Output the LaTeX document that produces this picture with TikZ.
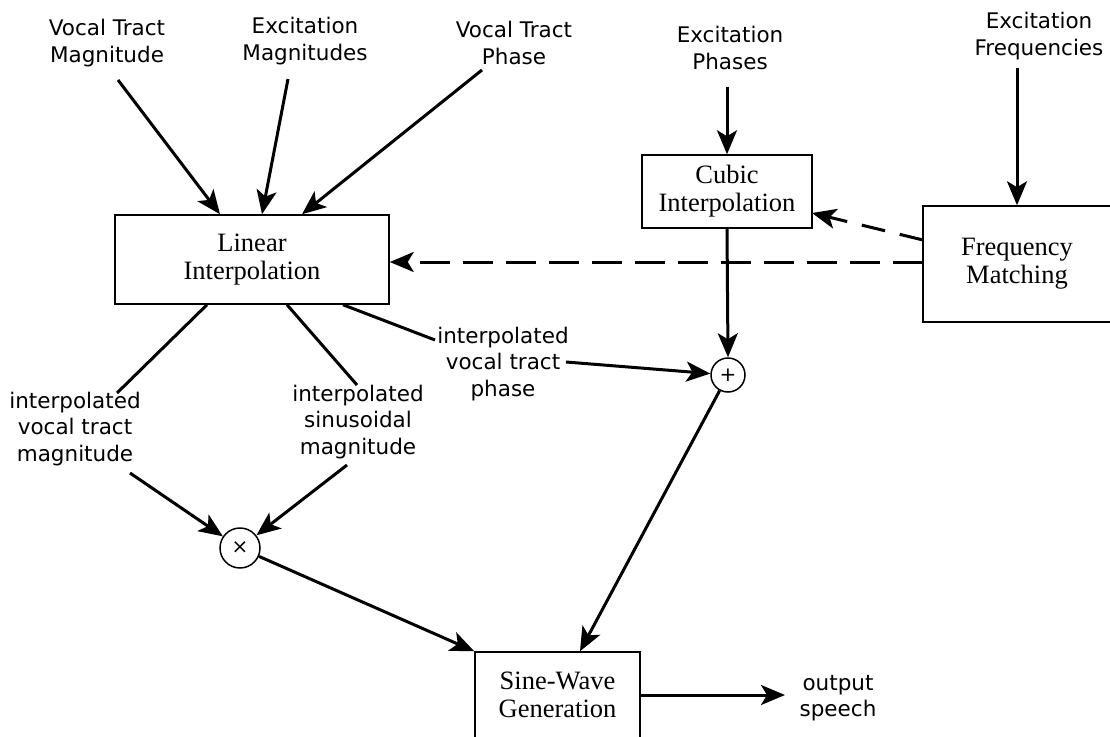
\documentclass[tikz,border=0pt]{standalone}
\usepackage{fontspec}
\setmainfont{Liberation Serif}
\newfontfamily\handfont{DejaVu Sans}
\usetikzlibrary{arrows.meta}

\begin{document}
\begin{tikzpicture}[x=1pt,y=-1pt,
  box/.style={draw,line width=1.5pt,align=center,inner sep=0pt,
    font=\fontsize{26.5}{28}\selectfont},
  lbl/.style={align=center,inner sep=0pt,
    font=\handfont\fontsize{21.5}{26.5}\selectfont},
  op/.style={draw,circle,line width=1.5pt,inner sep=0pt,
    font=\handfont\fontsize{20}{20}\selectfont},
  tip/.style={-{Stealth[length=24pt,width=20pt,inset=6pt]}},
  arr/.style={line width=3pt,tip},
  conn/.style={line width=3pt},
  dline/.style={line width=3pt,dash pattern=on 30pt off 13pt,tip}]
\useasboundingbox (0,0) rectangle (1110,736);

% processing blocks
\node[box,minimum width=274pt,minimum height=89pt] (lin) at (252,259.5) {Linear\\Interpolation};
\node[box,minimum width=170pt,minimum height=73pt] (cub) at (727,191.5) {Cubic\\Interpolation};
\node[box,minimum width=188pt,minimum height=116pt] (frq) at (1017,264) {Frequency\\Matching};
\node[box,minimum width=165pt,minimum height=86pt] (sin) at (557.5,695) {Sine-Wave\\Generation};

% combining operators
\node[op,minimum size=40pt] (mul) at (240,548) {×};
\node[op,minimum size=34pt] (add) at (728,375) {+};

% input parameters
\node[lbl] (vtm) at (107,43) {Vocal Tract\\Magnitude};
\node[lbl] (exm) at (305,41) {Excitation\\Magnitudes};
\node[lbl] (vtp) at (514,43) {Vocal Tract\\Phase};
\node[lbl] (exp) at (730,48) {Excitation\\Phases};
\node[lbl] (exf) at (1039,36) {Excitation\\Frequencies};

% intermediate signals and output
\node[lbl] (ivm) at (75,429) {interpolated\\vocal tract\\magnitude};
\node[lbl] (ism) at (358,422) {interpolated\\sinusoidal\\magnitude};
\node[lbl] (ivp) at (503,364) {interpolated\\vocal tract\\phase};
\node[lbl] (out) at (838,698) {output\\speech};

% connector end points next to the labels
\coordinate (vtmO) at (118,80);
\coordinate (exmO) at (288,79);
\coordinate (vtpO) at (482,70);
\coordinate (expO) at (727,87);
\coordinate (exfO) at (1017,68);
\coordinate (ivmI) at (117,393);
\coordinate (ivmO) at (130,473);
\coordinate (ismI) at (357,385);
\coordinate (ismO) at (347,465);
\coordinate (ivpI) at (435,340);
\coordinate (ivpO) at (566,362);
\coordinate (outI) at (785,695);

% inputs
\draw[arr] (vtmO) -- (220,0 |- lin.north);
\draw[arr] (exmO) -- (262,0 |- lin.north);
\draw[arr] (vtpO) -- (302,0 |- lin.north);
\draw[arr] (expO) -- (cub.north);
\draw[arr] (exfO) -- (frq.north);

% frequency matching control
\draw[dline,dash pattern=on 24pt off 15pt] (923,240) -- (812,213);
\draw[dline] (923,262) -- (lin.east |- 0,262);

% interpolated tracks
\draw[conn] (207,0 |- lin.south) -- (ivmI);
\draw[conn] (287,0 |- lin.south) -- (ismI);
\draw[conn] (343,0 |- lin.south) -- (ivpI);
\draw[arr] (ivmO) -- (mul);
\draw[arr] (ismO) -- (mul);
\draw[arr] (ivpO) -- (add);
\draw[arr] (cub.south) -- (add.north);

% synthesis
\draw[arr] (mul) -- (sin.north west);
\draw[arr] (add) -- (580,0 |- sin.north);
\draw[arr] (sin.east) -- (outI);
\end{tikzpicture}
\end{document}
